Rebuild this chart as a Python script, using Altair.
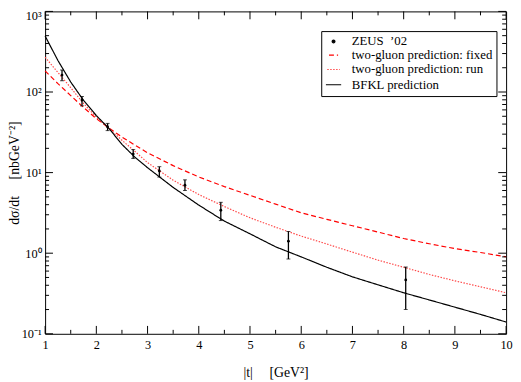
import altair as alt
import pandas as pd

# ---- data ----
x_grid = [1, 1.25, 1.5, 1.75, 2, 2.25, 2.5, 2.75, 3, 3.5, 4, 4.5, 5, 5.5, 6, 6.5, 7, 7.5, 8, 8.5, 9, 9.5, 10]
bfkl = [495, 246, 133, 78.7, 51, 35.1, 22.4, 15.6, 11.5, 6.55, 3.95, 2.5, 1.74, 1.2, 0.90, 0.669, 0.509,
        0.405, 0.323, 0.263, 0.214, 0.174, 0.140]
fixed = [183, 127, 90.3, 64.3, 46.7, 35.6, 27.6, 22.0, 17.6, 12.2, 8.83, 6.71, 5.22, 4.06, 3.17, 2.63, 2.19,
         1.83, 1.52, 1.31, 1.14, 1.02, 0.903]
run = [270, 175, 113, 72, 48.8, 35.0, 25.2, 18.4, 13.3, 8.05, 5.34, 3.79, 2.75, 2.10, 1.63, 1.30, 1.03,
       0.82, 0.669, 0.545, 0.454, 0.383, 0.323]

zeus_t = [1.33, 1.72, 2.22, 2.72, 3.23, 3.73, 4.43, 5.75, 8.04]
zeus_val = [162, 79.6, 36.8, 17.0, 10.5, 6.97, 3.41, 1.41, 0.466]
zeus_lo = [138, 67.3, 33.2, 15.0, 8.8, 6.0, 2.54, 0.847, 0.2]
zeus_hi = [187, 88, 40.8, 19.3, 11.85, 8.13, 4.28, 1.86, 0.674]

names = ["ZEUS\u2002\u201902", "two-gluon prediction: fixed", "two-gluon prediction: run", "BFKL prediction"]

x_major = [1, 2, 3, 4, 5, 6, 7, 8, 9, 10]
x_minor = [1.5, 2.5, 3.5, 4.5, 5.5, 6.5, 7.5, 8.5, 9.5]
y_major = [0.1, 1, 10, 100, 1000]
y_minor = [0.2, 0.3, 0.4, 0.5, 0.6, 0.7, 0.8, 0.9,
           2, 3, 4, 5, 6, 7, 8, 9,
           20, 30, 40, 50, 60, 70, 80, 90,
           200, 300, 400, 500, 600, 700, 800, 900]

# ---- tables ----
curves = pd.DataFrame({
    "t": x_grid * 3,
    "v": fixed + run + bfkl,
    "series": [names[1]] * len(x_grid) + [names[2]] * len(x_grid) + [names[3]] * len(x_grid),
})
zeus = pd.DataFrame({"t": zeus_t, "v": zeus_val, "lo": zeus_lo, "hi": zeus_hi, "series": names[0]})

W, H = 468.3, 327.5
FONT = "Liberation Serif"

xscale = alt.Scale(domain=[1, 10], nice=False, zero=False)
yscale = alt.Scale(type="log", domain=[0.1, 1000], nice=False)
cscale = alt.Scale(domain=names, range=["black", "#ff0000", "#ff4a4a", "black"])
dscale = alt.Scale(domain=names, range=[[1, 0], [5, 3], [1.5, 1.5], [1, 0]])
shscale = alt.Scale(domain=names, range=["circle", "stroke", "stroke", "stroke"])
szscale = alt.Scale(domain=names, range=[8, 240, 240, 240])

xaxis = alt.Axis(values=x_major, ticks=False, domain=False, grid=False, labelFlush=False,
                 labelFont=FONT, labelPadding=5, title="|t|\u2003\u2009[GeV\u00b2]",
                 titleFont=FONT, titleBaseline="alphabetic", titleY=43.5)
yaxis = alt.Axis(values=y_major, ticks=False, domain=False, grid=False, labelFlush=False,
                 labelExpr="'10' + ['\u207b\u00b9','\u2070','\u00b9','\u00b2','\u00b3'][round(log(datum.value)/LN10)+1]",
                 labelFont=FONT, labelPadding=4,
                 labelOffset={"condition": {"test": "datum.value >= 1000", "value": 4}, "value": 0},
                 title="d\u03c3/dt\u2003\u2009[nbGeV\u207b\u00b2]",
                 titleFont=FONT, titleBaseline="alphabetic", titleX=-27)

legend = alt.Legend(
    title=None, orient="none", legendX=280.5, legendY=20,
    symbolSize=240, symbolStrokeWidth=1.2,
    labelFont=FONT, labelFontSize=13, labelColor="black", labelOffset=10,
    rowPadding=0, padding=4, strokeColor="black", fillColor="white",
)


def X(field):
    return alt.X(field, scale=xscale, axis=xaxis)


def Y(field):
    return alt.Y(field, scale=yscale, axis=yaxis)


lines = alt.Chart(curves).mark_line(strokeWidth=1.2).encode(
    x=X("t:Q"),
    y=Y("v:Q"),
    color=alt.Color("series:N", scale=cscale, legend=legend, sort=names),
    strokeDash=alt.StrokeDash("series:N", scale=dscale, legend=legend, sort=names),
)

bars = alt.Chart(zeus).mark_rule(color="black", strokeWidth=1.3).encode(
    x=X("t:Q"), y=Y("lo:Q"), y2="hi:Q",
)
caps_lo = alt.Chart(zeus).mark_tick(color="black", orient="horizontal", size=4, thickness=1).encode(
    x=X("t:Q"), y=Y("lo:Q"),
)
caps_hi = alt.Chart(zeus).mark_tick(color="black", orient="horizontal", size=4, thickness=1).encode(
    x=X("t:Q"), y=Y("hi:Q"),
)
points = alt.Chart(zeus).mark_point(filled=True, opacity=1).encode(
    x=X("t:Q"),
    y=Y("v:Q"),
    color=alt.Color("series:N", scale=cscale, legend=legend, sort=names),
    shape=alt.Shape("series:N", scale=shscale, legend=legend, sort=names),
    size=alt.Size("series:N", scale=szscale, legend=legend, sort=names),
)


def yticks(vals, length, right):
    df = pd.DataFrame({"tv": vals})
    x0 = W if right else 0
    x1 = W - length if right else length
    return alt.Chart(df).mark_rule(color="black", strokeWidth=1).encode(
        y=Y("tv:Q"), x=alt.value(x0), x2=alt.value(x1))


def xticks(vals, length, top):
    df = pd.DataFrame({"tv": vals})
    y0 = 0 if top else H
    y1 = length if top else H - length
    return alt.Chart(df).mark_rule(color="black", strokeWidth=1).encode(
        x=X("tv:Q"), y=alt.value(y0), y2=alt.value(y1))


tick_layers = [
    yticks(y_major, 8, False), yticks(y_minor, 4, False),
    yticks(y_major, 8, True), yticks(y_minor, 4, True),
    xticks(x_major, 8, False), xticks(x_minor, 4, False),
    xticks(x_major, 8, True), xticks(x_minor, 4, True),
]

chart = alt.layer(lines, bars, caps_lo, caps_hi, points, *tick_layers).properties(
    width=W, height=H, autosize="none",
    padding={"left": 37.7, "top": 0.5, "right": 7, "bottom": 46},
).configure(
    background="white", font=FONT
).configure_axis(
    labelFont=FONT, titleFont=FONT, labelColor="black", titleColor="black",
    labelFontSize=12.5, titleFontSize=14, titleFontWeight="normal",
).configure_legend(
    labelFont=FONT
).configure_view(stroke="black", strokeWidth=1)

chart.save("out.html", embed_options={"renderer": "svg", "actions": False})
